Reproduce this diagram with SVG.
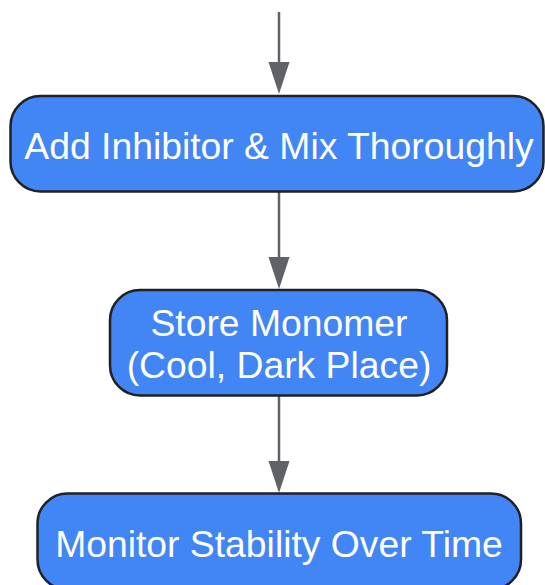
<svg xmlns="http://www.w3.org/2000/svg" width="545" height="585" viewBox="0 0 545 585">
<defs>
<style>
.node rect{fill:#4285f4;stroke:#202124;stroke-width:2.5}
.node text{font-family:"Liberation Sans",Arial,sans-serif;font-size:37.3px;fill:#ffffff;text-anchor:middle}
.edge{stroke:#5f6368;stroke-width:2.5;fill:none}
.head{fill:#5f6368}
</style>
</defs>
<g id="connectors">
<line class="edge" x1="279" y1="12" x2="279" y2="63"/>
<path class="head" d="M268.5,62 L289.5,62 L279,94 Z"/>
<line class="edge" x1="279" y1="192" x2="279" y2="258"/>
<path class="head" d="M268.5,257 L289.5,257 L279,289 Z"/>
<line class="edge" x1="279" y1="396" x2="279" y2="462"/>
<path class="head" d="M268.5,461 L289.5,461 L279,493 Z"/>
</g>
<g id="node1" class="node">
<rect x="10.5" y="96" width="533" height="95.5" rx="30" ry="30"/>
<text x="279" y="158.5">Add Inhibitor &amp; Mix Thoroughly</text>
</g>
<g id="node2" class="node">
<rect x="110" y="290" width="337" height="105.5" rx="30" ry="30"/>
<text x="279" y="336">Store Monomer</text>
<text x="279" y="377.5">(Cool, Dark Place)</text>
</g>
<g id="node3" class="node">
<rect x="37.5" y="493.5" width="483.5" height="96" rx="30" ry="30"/>
<text x="279" y="557">Monitor Stability Over Time</text>
</g>
</svg>
